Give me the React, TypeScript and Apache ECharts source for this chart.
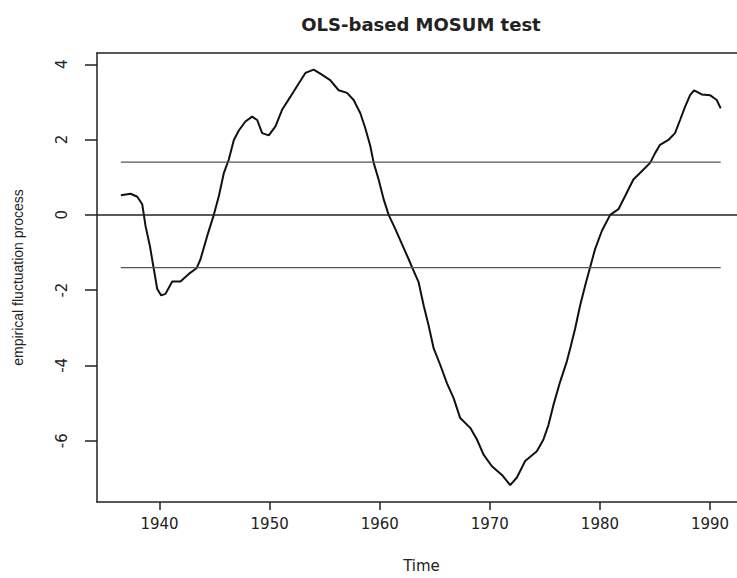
import React, { useEffect, useRef } from "react";
import * as echarts from "echarts";

const years = [
  1936.49, 1937.37, 1937.98, 1938.43, 1938.73, 1939.12, 1939.48, 1939.79, 1940.15, 1940.54,
  1941.15, 1941.9, 1942.66, 1943.36, 1943.72, 1944.33, 1944.93, 1945.39, 1945.84, 1946.29,
  1946.75, 1947.2, 1947.8, 1948.41, 1948.87, 1949.32, 1949.92, 1950.53, 1951.13, 1951.89,
  1952.64, 1953.25, 1954.0, 1954.6, 1955.5, 1956.27, 1957.03, 1957.63, 1958.24, 1958.69,
  1959.15, 1959.45, 1959.9, 1960.36, 1960.81, 1961.42, 1962.02, 1962.63, 1962.93, 1963.53,
  1963.99, 1964.44, 1964.9, 1965.5, 1966.11, 1966.71, 1967.31, 1968.22, 1968.83, 1969.43,
  1970.19, 1971.1, 1971.85, 1972.46, 1973.21, 1974.27, 1974.87, 1975.33, 1975.78, 1976.39,
  1976.99, 1977.3, 1977.75, 1978.2, 1978.66, 1979.11, 1979.56, 1980.17, 1980.93, 1981.68,
  1982.29, 1983.04, 1983.8, 1984.56, 1985.01, 1985.46, 1986.22, 1986.82, 1987.28, 1987.73,
  1988.19, 1988.55, 1989.25, 1990.0, 1990.61, 1990.97,
];

const fluctuation = [
  0.52, 0.56, 0.48, 0.28, -0.3, -0.82, -1.44, -1.97, -2.14, -2.1,
  -1.77, -1.77, -1.57, -1.42, -1.18, -0.56, 0.0, 0.5, 1.11, 1.47,
  1.99, 2.24, 2.48, 2.61, 2.52, 2.17, 2.11, 2.35, 2.79, 3.14,
  3.49, 3.77, 3.86, 3.75, 3.58, 3.31, 3.24, 3.05, 2.7, 2.3,
  1.82, 1.38, 0.94, 0.41, 0.0, -0.38, -0.78, -1.18, -1.39, -1.79,
  -2.41, -2.94, -3.55, -3.99, -4.48, -4.87, -5.4, -5.66, -5.97, -6.37,
  -6.68, -6.91, -7.18, -6.98, -6.54, -6.28, -5.97, -5.58, -5.05, -4.43,
  -3.9, -3.55, -3.02, -2.41, -1.88, -1.39, -0.91, -0.43, 0.0, 0.15,
  0.5, 0.94, 1.16, 1.38, 1.64, 1.86, 1.99, 2.17, 2.52, 2.87,
  3.18, 3.31, 3.2, 3.18, 3.05, 2.83,
];

const boundaryValue = 1.4;
const xTicks = [1940, 1950, 1960, 1970, 1980, 1990];
const yTicks = [-6, -4, -2, 0, 2, 4];
const xRange = [1934.32, 1992.45];
const yRange = [-7.63, 4.3];

export default function App() {
  const ref = useRef<HTMLDivElement>(null);
  useEffect(() => {
    if (!ref.current) return;
    const chart = echarts.init(ref.current, null, { renderer: "svg" });
    const lineData = years.map((y, i) => [y, fluctuation[i]]);
    const x0 = years[0];
    const x1 = years[years.length - 1];
    const upper = [[x0, boundaryValue], [x1, boundaryValue]];
    const lower = [[x0, -boundaryValue], [x1, -boundaryValue]];
    const tickFont = { fontFamily: "DejaVu Sans", fontSize: 15, color: "#222" };
    const axisLineStyle = { color: "#222", width: 1.5 };
    chart.setOption({
      animation: false,
      backgroundColor: "#fff",
      grid: {
        left: 97,
        right: 0,
        top: 53,
        bottom: 74,
        show: false,
      },
      graphic: [
        {
          type: "text",
          x: 421,
          y: 24,
          style: {
            text: "OLS-based MOSUM test",
            fontFamily: "DejaVu Sans",
            fontWeight: "bold",
            fontSize: 18,
            fill: "#222",
            textAlign: "center",
            textVerticalAlign: "middle",
          },
        },
      ],
      xAxis: [
        {
          type: "value",
          position: "bottom",
          min: xRange[0],
          max: xRange[1],
          name: "Time",
          nameLocation: "middle",
          nameGap: 56,
          nameTextStyle: { fontFamily: "DejaVu Sans", fontSize: 15, color: "#222", padding: [0, 0, 0, 9] },
          splitLine: { show: false },
          axisLine: { show: true, onZero: false, lineStyle: axisLineStyle },
          axisTick: { show: true, length: 8, customValues: xTicks, lineStyle: axisLineStyle },
          axisLabel: {
            show: true,
            customValues: xTicks,
            margin: 14,
            formatter: (v: number) => String(v),
            ...tickFont,
          },
        },
        {
          type: "value",
          position: "top",
          min: xRange[0],
          max: xRange[1],
          splitLine: { show: false },
          axisLine: { show: true, onZero: false, lineStyle: axisLineStyle },
          axisTick: { show: false },
          axisLabel: { show: false },
        },
      ],
      yAxis: {
        type: "value",
        min: yRange[0],
        max: yRange[1],
        name: "empirical fluctuation process",
        nameLocation: "middle",
        nameGap: 72,
        nameTextStyle: { fontFamily: "Liberation Sans", fontSize: 14, color: "#222" },
        splitLine: { show: false },
        axisLine: { show: true, onZero: false, lineStyle: axisLineStyle },
        axisTick: { show: true, length: 12, customValues: yTicks, lineStyle: axisLineStyle },
        axisLabel: { show: true, customValues: yTicks, rotate: 90, margin: 28, ...tickFont },
      },
      series: [
        {
          type: "line",
          data: lineData,
          showSymbol: false,
          symbol: "none",
          lineStyle: { color: "#111", width: 2 },
          silent: true,
          markLine: {
            silent: true,
            symbol: "none",
            label: { show: false },
            lineStyle: { color: "#222", width: 1.5, type: "solid" },
            data: [{ yAxis: 0 }],
          },
        },
        {
          type: "line",
          data: upper,
          showSymbol: false,
          symbol: "none",
          lineStyle: { color: "#555", width: 1.2 },
          silent: true,
        },
        {
          type: "line",
          data: lower,
          showSymbol: false,
          symbol: "none",
          lineStyle: { color: "#555", width: 1.2 },
          silent: true,
        },
      ],
    });
    return () => chart.dispose();
  }, []);
  return (
    <div
      ref={ref}
      style={{ position: "absolute", left: 0, top: 0, width: 737, height: 578 }}
    />
  );
}
